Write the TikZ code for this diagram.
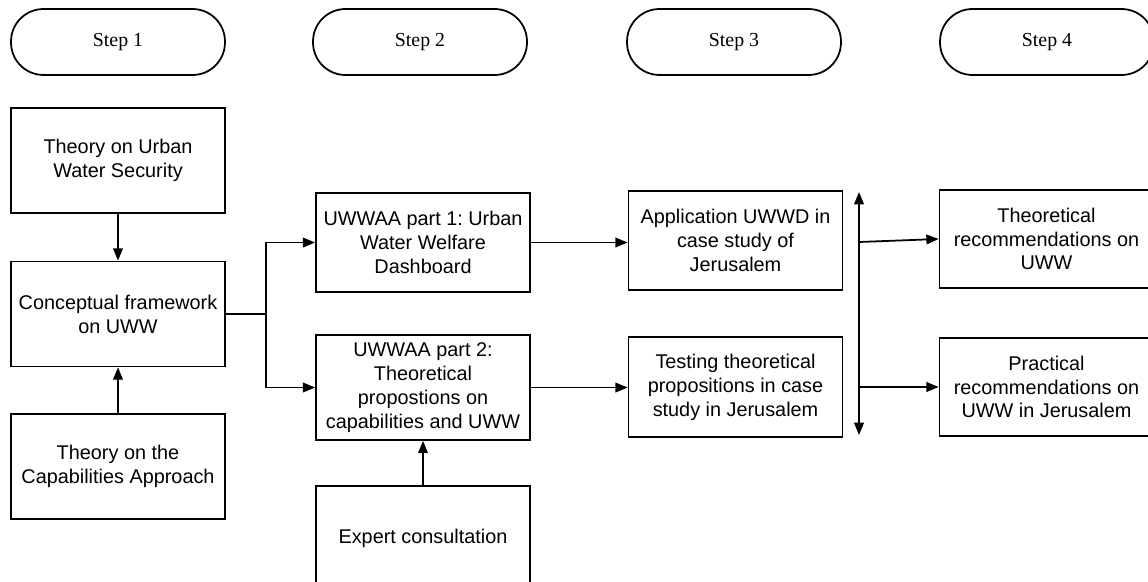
\documentclass[tikz,border=0pt]{standalone}
\usepackage{fontspec}
\setmainfont{Liberation Serif}
\newfontfamily\boxfont{Liberation Sans}
\usetikzlibrary{arrows.meta}
\frenchspacing

\begin{document}
\begin{tikzpicture}[x=0.02cm, y=-0.02cm, line width=1pt,
    stepoval/.style={rectangle, draw, rounded corners=18.5pt, minimum width=4.28cm, minimum height=1.32cm,
      font=\fontsize{11.3}{13.6}\selectfont},
    boxnode/.style={draw, rectangle, minimum width=4.28cm, minimum height=2.1cm, inner sep=2pt,
      align=center, font=\boxfont\fontsize{11.3}{13.6}\selectfont},
    arr/.style={-{Triangle[length=7pt,width=5.5pt]}}]
  \useasboundingbox (0,0) rectangle (1148,581);

  % step headers
  \foreach \n/\x in {1/118,2/420,3/734,4/1047} {
    \node[stepoval] (step\n) at (\x,42) {Step \n};
  }

  % step 1
  \node[boxnode] (urbanws) at (118,160.5) {Theory on Urban\\Water Security};
  \node[boxnode] (concept) at (118,314) {Conceptual framework\\on UWW};
  \node[boxnode] (capab) at (118,466.5) {Theory on the\\Capabilities Approach};

  % step 2
  \node[boxnode, minimum height=1.98cm] (part1) at (423,242.5) {UWWAA part 1: Urban\\Water Welfare\\Dashboard};
  \node[boxnode] (part2) at (423,387.5) {UWWAA part 2:\\Theoretical\\propostions on\\capabilities and UWW};
  \node[boxnode] (expert) at (423,538.5) {Expert consultation};

  % step 3
  \node[boxnode, minimum height=1.98cm] (applic) at (735.5,240.5) {Application UWWD in\\case study of\\Jerusalem};
  \node[boxnode, minimum height=2cm] (testing) at (735.5,387) {Testing theoretical\\propositions in case\\study in Jerusalem};

  % step 4
  \node[boxnode, minimum height=1.96cm] (theorec) at (1046.5,239) {Theoretical\\recommendations on\\UWW};
  \node[boxnode, minimum height=1.96cm] (practrec) at (1046.5,387) {Practical\\recommendations on\\UWW in Jerusalem};

  % connectors
  \draw[arr] (urbanws) -- (concept);
  \draw[arr] (capab) -- (concept);
  \coordinate (split) at (266,314);
  \draw (concept.east) -- (split);
  \draw[arr] (split) |- (part1.west);
  \draw[arr] (split) |- (part2.west);
  \draw[arr] (expert) -- (part2);
  \draw[arr] (part1.east) -- (part1.east -| applic.west);
  \draw[arr] (part2.east) -- (part2.east -| testing.west);

  \coordinate (bustop) at (859,192);
  \coordinate (busbot) at (859,435);
  \draw[{Triangle[length=7pt,width=5.5pt]}-{Triangle[length=7pt,width=5.5pt]}] (bustop) -- (busbot);
  \coordinate (tapA) at (859,242);
  \coordinate (tapB) at (859,387);
  \draw[arr] (tapA) -- (theorec.west);
  \draw[arr] (tapB) -- (practrec.west);
\end{tikzpicture}
\end{document}
